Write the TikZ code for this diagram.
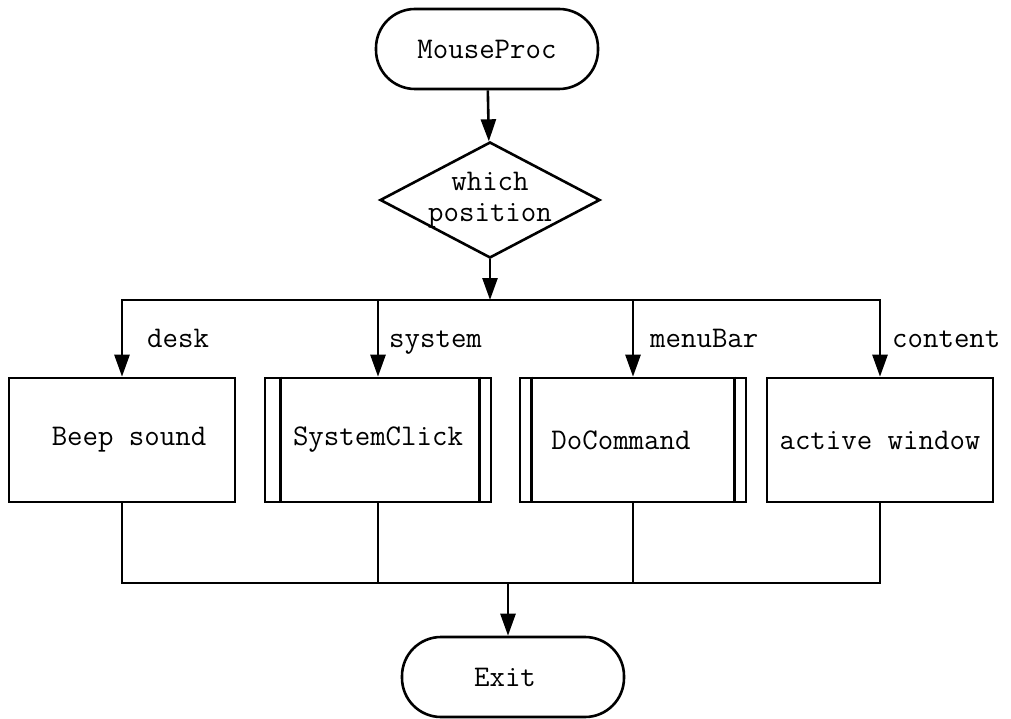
\documentclass[tikz,border=0pt]{standalone}
\usetikzlibrary{shapes.geometric,arrows.meta}
\begin{document}
\begin{tikzpicture}[x=1pt,y=-1pt,
  every node/.style={font=\fontsize{30}{31}\selectfont\ttfamily},
  ln/.style={line width=2.6pt},
  arr/.style={ln,-{Triangle[length=22pt,width=15pt]}},
  term/.style={draw,ln,rounded corners=39pt,minimum width=222pt,minimum height=80pt,inner sep=0},
  proc/.style={draw,ln,minimum width=226pt,minimum height=124pt,inner sep=0},
  dec/.style={draw,ln,shape=diamond,aspect=1.9,inner sep=-6pt,minimum width=220pt,minimum height=116pt,align=center},
  lab/.style={anchor=base west,inner sep=0}
]
\fill[white] (0,0) rectangle (1011,719);
\useasboundingbox (0,0) rectangle (1011,719);

\node[term] (mp) at (487,49) {MouseProc};
\node[dec] (dia) at (490,200) {which\\position};
\coordinate (jt) at (490,300);

\node[proc] (beep) at (122,440) {\hspace*{14pt}Beep sound};
\node[proc] (sc) at (378,440) {SystemClick};
\node[proc] (dc) at (633,440) {DoCommand\hspace*{24pt}};
\node[proc] (aw) at (880,440) {active window};

\draw[ln] ([xshift=17pt]sc.north west) -- ([xshift=17pt]sc.south west);
\draw[ln] ([xshift=-13pt]sc.north east) -- ([xshift=-13pt]sc.south east);
\draw[ln] ([xshift=13pt]dc.north west) -- ([xshift=13pt]dc.south west);
\draw[ln] ([xshift=-13pt]dc.north east) -- ([xshift=-13pt]dc.south east);

\node[term] (exit) at (513,677) {Exit\hspace*{16pt}};
\coordinate (jb) at (508,583);

\draw[arr] (mp) -- (dia);
\draw[arr] (dia) -- (jt);
\draw[arr] (jt) -| (beep);
\draw[arr] (jt) -| (sc);
\draw[arr] (jt) -| (dc);
\draw[arr] (jt) -| (aw);

\node[lab] (ldesk) at (147,347) {desk};
\node[lab] (lsys) at (389,347) {system};
\node[lab] (lmenu) at (650,347) {menuBar};
\node[lab] (lcont) at (892,347) {content};

\draw[ln] (beep) |- (jb);
\draw[ln] (sc) |- (jb);
\draw[ln] (dc) |- (jb);
\draw[ln] (aw) |- (jb);
\draw[arr] (jb) -- (jb |- exit.north);
\end{tikzpicture}
\end{document}
